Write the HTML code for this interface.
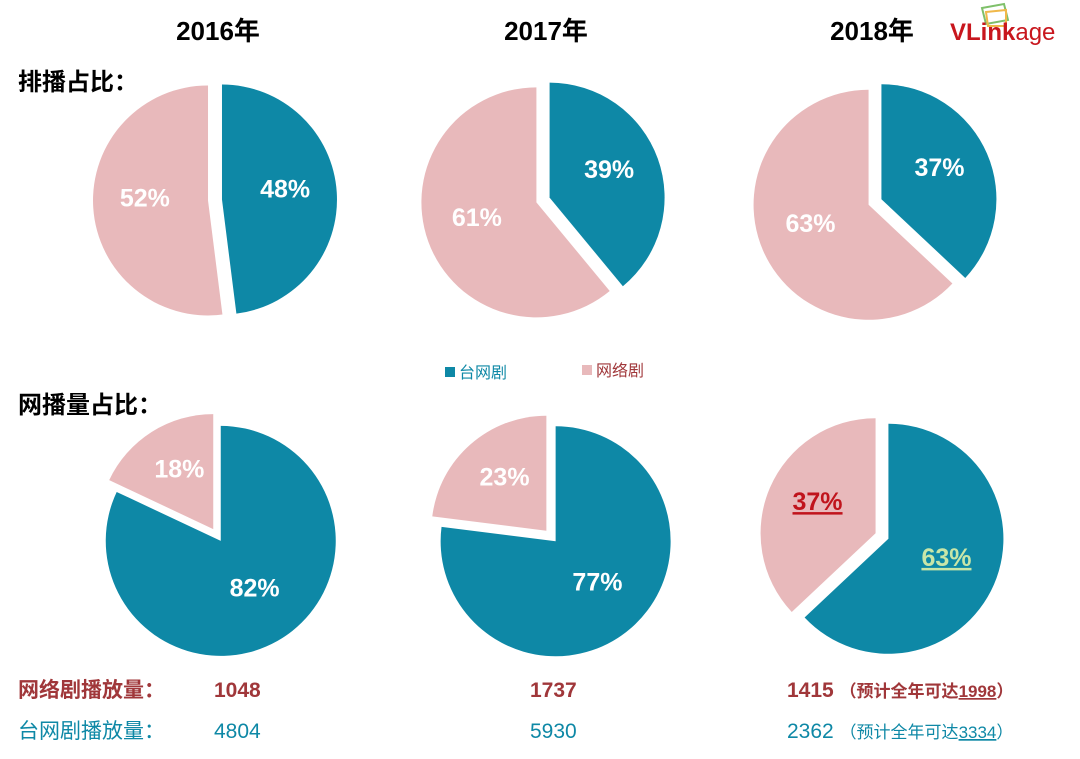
<!DOCTYPE html>
<html><head><meta charset="utf-8"><style>
body{margin:0;width:1080px;height:759px;background:#fff;overflow:hidden;font-family:"Liberation Sans","Noto Sans CJK SC",sans-serif}
svg{position:absolute;left:0;top:0}
text{font-family:"Liberation Sans","Noto Sans CJK SC",sans-serif}
</style></head><body>
<svg width="1080" height="759">
<g>
<text x="218" y="40" font-size="26" font-weight="bold" text-anchor="middle">2016年</text>
<text x="546" y="40" font-size="26" font-weight="bold" text-anchor="middle">2017年</text>
<text x="872" y="40" font-size="26" font-weight="bold" text-anchor="middle">2018年</text>
<text x="18" y="90" font-size="24" font-weight="bold">排播占比：</text>
<text x="18" y="413" font-size="24" font-weight="bold">网播量占比：</text>
</g>
<g>
<polygon points="982,8 1004,4 1008,20 986,24" fill="none" stroke="#7fc06a" stroke-width="2"/>
<polygon points="986,12 1006,10 1006,26 988,26" fill="none" stroke="#f0b84a" stroke-width="2"/>
<text x="950" y="40" font-size="24" font-weight="bold" fill="#c8161d">VLink<tspan font-weight="normal">age</tspan></text>
</g>
<g>
<rect x="445" y="367" width="10" height="10" fill="#0e88a6"/>
<text x="459" y="378" font-size="16" fill="#0e88a6">台网剧</text>
<rect x="582" y="365" width="10" height="10" fill="#e8b9bb"/>
<text x="596" y="376" font-size="16" fill="#a0373a">网络剧</text>
</g>
<g id="pies"></g>
<g>
<text x="18" y="697" font-size="21" font-weight="bold" fill="#a0373a">网络剧播放量：</text>
<text x="214" y="697" font-size="21" font-weight="bold" fill="#a0373a">1048</text>
<text x="530" y="697" font-size="21" font-weight="bold" fill="#a0373a">1737</text>
<text x="787" y="697" font-size="21" font-weight="bold" fill="#a0373a">1415 <tspan font-size="17">（预计全年可达<tspan text-decoration="underline">1998</tspan>）</tspan></text>
<text x="18" y="738" font-size="21" fill="#0e88a6">台网剧播放量：</text>
<text x="214" y="738" font-size="21" fill="#0e88a6">4804</text>
<text x="530" y="738" font-size="21" fill="#0e88a6">5930</text>
<text x="787" y="738" font-size="21" fill="#0e88a6">2362 <tspan font-size="17">（预计全年可达<tspan text-decoration="underline">3334</tspan>）</tspan></text>
</g>
</svg>
<script>
const years = ['2016','2017','2018'];
const scheduleTvWeb = [48, 39, 37];
const viewsTvWeb = [82, 77, 63];
const NS = 'http://www.w3.org/2000/svg';
const g = document.getElementById('pies');
const topCenters = [[215,200],[543,200],[875,202]];
const botCenters = [[217,535],[551,536],[882,536]];
const R = 115, EX = 7;
function pt(cx,cy,r,frac){const a=frac*2*Math.PI;return [cx+r*Math.sin(a),cy-r*Math.cos(a)];}
function slice(cx,cy,f0,f1,color,name,label,labelColor,underline){
  const mid=(f0+f1)/2;const a=mid*2*Math.PI;
  const ox=cx+EX*Math.sin(a), oy=cy-EX*Math.cos(a);
  const p0=pt(ox,oy,R,f0), p1=pt(ox,oy,R,f1);
  const large=(f1-f0)>0.5?1:0;
  const p=document.createElementNS(NS,'path');
  p.setAttribute('d',`M${ox},${oy}L${p0[0]},${p0[1]}A${R},${R} 0 ${large} 1 ${p1[0]},${p1[1]}Z`);
  p.setAttribute('fill',color);
  
  
  g.appendChild(p);
  const lp=pt(ox,oy,R*0.55,mid);
  const t=document.createElementNS(NS,'text');
  t.setAttribute('x',lp[0]);t.setAttribute('y',lp[1]+2);
  t.setAttribute('text-anchor','middle');t.setAttribute('font-size','25');
  t.setAttribute('font-weight','bold');t.setAttribute('fill',labelColor);
  if(underline)t.setAttribute('text-decoration','underline');
  t.textContent=label+'%';
  
  
  g.appendChild(t);
}
const TEAL='#0e88a6', PINK='#e8b9bb';
years.forEach((y,i)=>{
  const s=scheduleTvWeb[i]/100;
  slice(topCenters[i][0],topCenters[i][1],0,s,TEAL,'schedule-tvweb-'+y,scheduleTvWeb[i],'#fff',false);
  slice(topCenters[i][0],topCenters[i][1],s,1,PINK,'schedule-web-'+y,100-scheduleTvWeb[i],'#fff',false);
  const v=viewsTvWeb[i]/100;
  const last=i===years.length-1;
  slice(botCenters[i][0],botCenters[i][1],0,v,TEAL,'views-tvweb-'+y,viewsTvWeb[i],last?'#c8e6a8':'#fff',last);
  slice(botCenters[i][0],botCenters[i][1],v,1,PINK,'views-web-'+y,100-viewsTvWeb[i],last?'#c0141c':'#fff',last);
});
</script>
</body></html>
